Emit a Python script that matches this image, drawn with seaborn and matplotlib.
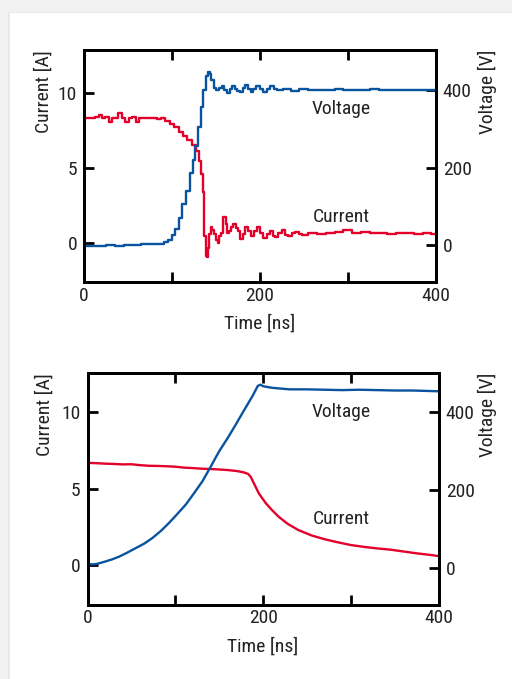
import matplotlib
matplotlib.use("Agg")
import matplotlib.pyplot as plt
from matplotlib import font_manager as fm
from matplotlib.patches import Rectangle
import seaborn as sns

# ---- switching waveform 1 (fast edge) ----
top_cur_t = [0, 0.5, 5, 10, 15, 18, 22, 26, 30, 33, 37, 41, 45, 49, 53, 57, 61, 65, 70, 75,
             80, 85, 90, 95, 100, 105, 110, 115, 120, 125, 129, 132, 134, 136, 138, 139, 140,
             141, 143, 145, 147, 149, 151, 153, 155, 157, 160, 162, 164, 166, 168, 171, 174,
             176, 179, 182, 185, 188, 191, 195, 198, 202, 206, 210, 213, 216, 219, 223, 227,
             231, 234, 238, 242, 246, 250, 260, 270, 280, 290, 300, 310, 320, 330, 340, 350,
             360, 370, 380, 390, 400]
top_cur_a = [0.5, 8.3, 8.35, 8.3, 8.4, 8.55, 8.35, 8.4, 8.05, 8.35, 8.3, 8.65, 8.35, 8.05,
             8.35, 8.4, 8.05, 8.35, 8.3, 8.35, 8.3, 8.25, 8.3, 8.1, 7.95, 7.7, 7.4, 7.1, 6.85,
             6.5, 6.1, 5.5, 4.6, 3.4, 0.5, -0.85, -0.9, -0.3, 0.6, 1.05, 0.9, 0.6, 0.2, 0.0,
             0.5, 0.7, 1.75, 1.3, 0.7, 0.8, 1.1, 1.3, 1.0, 0.8, 0.25, 0.6, 1.1, 0.8, 0.45, 0.8,
             1.1, 0.7, 0.35, 0.6, 0.8, 0.5, 0.4, 0.7, 0.85, 0.55, 0.45, 0.7, 0.75, 0.6, 0.55,
             0.65, 0.6, 0.7, 0.75, 0.85, 0.7, 0.75, 0.65, 0.7, 0.6, 0.65, 0.65, 0.6, 0.65, 0.6]

top_volt_t = [0, 10, 20, 30, 40, 50, 60, 70, 80, 88, 94, 98, 102, 106, 110, 114, 118, 122,
              125, 128, 131, 134, 137, 140, 142, 144, 146, 149, 152, 155, 158, 161, 164, 167,
              170, 173, 176, 179, 182, 185, 188, 191, 194, 198, 202, 206, 210, 214, 218, 222,
              230, 240, 250, 260, 270, 280, 290, 300, 310, 320, 330, 340, 350, 360, 370, 380,
              390, 400]
top_volt_v = [-3, -2, -1, 0, -1, 1, 1, 2, 2, 4, 8, 13, 25, 42, 70, 105, 140, 185, 220, 255,
              305, 355, 400, 435, 447, 440, 425, 405, 400, 406, 410, 400, 392, 402, 410, 402,
              398, 396, 405, 412, 403, 396, 402, 410, 402, 395, 403, 409, 402, 399, 403, 398,
              402, 400, 401, 399, 402, 400, 401, 399, 402, 400, 401, 399, 401, 399, 400, 399]

# ---- switching waveform 2 (slow edge) ----
bot_cur_t = [0, 10, 20, 30, 40, 50, 60, 70, 80, 90, 100, 110, 120, 130, 140, 150, 160, 170,
             178, 183, 186, 189, 192, 195, 198, 203, 210, 218, 228, 240, 255, 270, 285, 300,
             315, 330, 345, 360, 375, 390, 400]
bot_cur_a = [6.67, 6.65, 6.62, 6.6, 6.57, 6.58, 6.52, 6.48, 6.47, 6.45, 6.42, 6.36, 6.33,
             6.29, 6.27, 6.24, 6.2, 6.14, 6.05, 5.95, 5.75, 5.4, 5.05, 4.7, 4.45, 4.05, 3.6,
             3.15, 2.7, 2.3, 1.95, 1.7, 1.5, 1.32, 1.2, 1.1, 1.02, 0.9, 0.78, 0.68, 0.6]

bot_volt_t = [0, 5, 10, 15, 21, 28, 36, 45, 55, 65, 74, 84, 93, 102, 112, 121, 131, 140, 150,
              160, 169, 178, 188, 194, 197, 200, 210, 220, 230, 250, 270, 290, 310, 330, 350,
              370, 385, 400]
bot_volt_v = [10, 8, 9, 12, 16, 21, 28, 38, 50, 62, 76, 95, 115, 137, 162, 190, 222, 258,
              299, 334, 368, 403, 441, 467, 470, 466, 462, 460, 458, 458, 457, 456, 457, 456,
              455, 455, 454, 453]

x_ticks = [0, 100, 200, 300, 400]
x_tick_labels = ["0", "", "200", "", "400"]
cur_ticks = [0, 5, 10]
volt_ticks = [0, 200, 400]

RED = "#e3002b"
BLUE = "#0a539e"
TXT = "#222222"


def pick_narrow_font():
    """Return the file of a regular-weight narrow sans face, if one is installed."""
    fonts = fm.fontManager.ttflist
    wanted = ["Liberation Sans Narrow", "DejaVu Sans Condensed", "Roboto Condensed",
              "Open Sans Condensed", "Noto Sans Condensed"]
    def regular(f):
        return f.style == "normal" and str(f.weight) in ("400", "normal", "regular", "book")
    for name in wanted:
        for f in fonts:
            if f.name == name and regular(f):
                return f.fname, True
    for f in fonts:
        if str(f.stretch) in ("condensed", "semi-condensed") and regular(f) \
                and "CJK" not in f.name:
            return f.fname, True
    for f in fonts:
        if f.name == "Liberation Sans" and regular(f):
            return f.fname, False
    return None, False


font_file, is_narrow = pick_narrow_font()
FS = 14 if is_narrow else 11.5


def fp():
    if font_file:
        return fm.FontProperties(fname=font_file, size=FS)
    return fm.FontProperties(family="DejaVu Sans", size=FS)


sns.set_style("white")
plt.rcParams["text.color"] = TXT
plt.rcParams["axes.labelcolor"] = TXT

W, H = 512, 679
fig = plt.figure(figsize=(W / 100, H / 100), dpi=100)
fig.patch.set_facecolor("#f2f2f2")
fig.patches.append(Rectangle((8 / W, 0), 1, (H - 12) / H, transform=fig.transFigure,
                             facecolor="#e9e9e9", edgecolor="none", zorder=-2))
fig.patches.append(Rectangle((10 / W, 0), 1, (H - 13) / H, transform=fig.transFigure,
                             facecolor="white", edgecolor="none", zorder=-1))


def panel(rect, cur_t, cur_a, volt_t, volt_v, cur_lim, volt_lim, lab_pos,
          ylab_left_x, ylab_right_x, drawstyle):
    ax = fig.add_axes(rect)
    ax.set_facecolor("none")
    ax2 = ax.twinx()
    sns.lineplot(x=cur_t, y=cur_a, ax=ax, color=RED, lw=1.7, sort=False, estimator=None,
                 drawstyle=drawstyle)
    sns.lineplot(x=volt_t, y=volt_v, ax=ax2, color=BLUE, lw=1.7, sort=False, estimator=None,
                 drawstyle=drawstyle)
    ax.set_xlim(0, 400)
    ax.set_ylim(*cur_lim)
    ax2.set_ylim(*volt_lim)
    ax.set_xticks(x_ticks)
    ax.set_xticklabels(x_tick_labels)
    ax.set_yticks(cur_ticks)
    ax2.set_yticks(volt_ticks)
    for a in (ax, ax2):
        for s in a.spines.values():
            s.set_linewidth(2.0)
            s.set_color("black")
        a.tick_params(direction="in", length=7.5, width=2.0, color="black", labelcolor=TXT)
    ax.tick_params(axis="x", top=True, bottom=True, pad=3.5)
    ax.tick_params(axis="y", pad=5.0)
    ax2.tick_params(axis="y", pad=5.0)
    for lab in ax.get_xticklabels() + ax.get_yticklabels() + ax2.get_yticklabels():
        lab.set_fontproperties(fp())
    ax.set_xlabel("Time [ns]", fontproperties=fp())
    ax.xaxis.set_label_coords(0.5, -0.14)
    ax.set_ylabel("Current [A]", fontproperties=fp(), loc="top")
    ax.yaxis.set_label_coords(ylab_left_x, 1.0)
    ax2.set_ylabel("Voltage [V]", fontproperties=fp(), loc="top")
    ax2.yaxis.set_label_coords(ylab_right_x, 1.0)
    ax.text(lab_pos[0], lab_pos[1], "Voltage", ha="center", va="center", fontproperties=fp())
    ax.text(lab_pos[0], lab_pos[2], "Current", ha="center", va="center", fontproperties=fp())
    return ax, ax2


panel([84 / W, 1 - 282 / H, 351.7 / W, 232 / H],
      top_cur_t, top_cur_a, top_volt_t, top_volt_v,
      (-2.58, 12.85), (-95, 503), (293, 8.95, 1.75), -0.088, 1.12, "steps-mid")
panel([87.5 / W, 1 - 604.5 / H, 351.2 / W, 231.5 / H],
      bot_cur_t, bot_cur_a, bot_volt_t, bot_volt_v,
      (-2.55, 12.52), (-95, 500), (289, 10.0, 3.0), -0.097, 1.112, "default")

fig.savefig("out.png", dpi=100, facecolor=fig.get_facecolor())
